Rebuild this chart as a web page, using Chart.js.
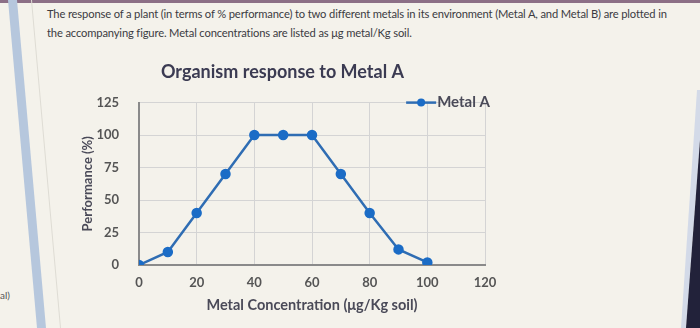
<!DOCTYPE html>
<html>
<head>
<meta charset="utf-8">
<script src="https://cdn.jsdelivr.net/npm/chart.js@4/dist/chart.umd.min.js"></script>
<style>
  html, body { margin: 0; padding: 0; }
  body {
    width: 700px; height: 328px; overflow: hidden; position: relative;
    background: #f4f2eb;
    font-family: Lato, sans-serif;
  }
  .layer { position: absolute; left: 0; top: 0; width: 700px; height: 328px; }
  .topbar { position: absolute; left: 0; top: 0; width: 700px; height: 3px; background: #8c6f86; }
  .rail { background: #b6c7dd; clip-path: polygon(8px 0, 17px 0, 46px 328px, 37px 328px); }
  .rail-edge { background: #dedcd4; clip-path: polygon(31px 0, 32px 0, 61px 328px, 60px 328px); }
  .glare { background: #d3dae8; clip-path: polygon(697px 90px, 700px 90px, 700px 140px, 686px 328px, 681px 328px); }
  .corner { background: #22223a; clip-path: polygon(700px 140px, 700px 328px, 686px 328px); }
  .question {
    position: absolute; left: 47px; top: 4px; width: 650px;
    font-size: 11.2px; line-height: 19px; color: #3b3b42; letter-spacing: -0.15px;
  }
  .side { position: absolute; left: 0; top: 289px; font-size: 10px; color: #555; }
</style>
</head>
<body>
<div class="topbar"></div>
<div class="layer rail"></div>
<div class="layer rail-edge"></div>
<div class="layer glare"></div>
<div class="layer corner"></div>
<div class="question">The response of a plant (in terms of % performance) to two different metals in its environment (Metal A, and Metal B) are plotted in<br>the accompanying figure. Metal concentrations are listed as μg metal/Kg soil.</div>
<div class="side">al)</div>
<div class="layer"><canvas id="chart" width="700" height="328"></canvas></div>
<script>
const concentrations = [0, 10, 20, 30, 40, 50, 60, 70, 80, 90, 100];
const performance = [0, 10, 40, 70, 100, 100, 100, 70, 40, 12, 2];
const seriesName = 'Metal A';
const xTicks = [0, 20, 40, 60, 80, 100, 120];
const yTicks = [0, 25, 50, 75, 100, 125];

const lineBlue = '#2f6db3';
const dotBlue = '#1b6cc6';
const textGray = '#4a4a58';
const fontFamily = "Lato, sans-serif";

// legend drawn on the top gridline, right-aligned to the plot
const cornerLegend = {
  id: 'cornerLegend',
  afterDraw(chart) {
    const {ctx, chartArea} = chart;
    const ds = chart.data.datasets[0];
    ctx.save();
    ctx.font = `bold 15px ${fontFamily}`;
    ctx.textBaseline = 'middle';
    ctx.textAlign = 'right';
    const y = chartArea.top;
    const textRight = chartArea.right + 5;
    const textW = ctx.measureText(ds.label).width;
    const lineEnd = textRight - textW - 1;
    const lineStart = lineEnd - 30;
    ctx.strokeStyle = ds.borderColor;
    ctx.lineWidth = 2.5;
    ctx.beginPath(); ctx.moveTo(lineStart, y); ctx.lineTo(lineEnd, y); ctx.stroke();
    ctx.fillStyle = ds.pointBackgroundColor;
    ctx.beginPath(); ctx.arc((lineStart + lineEnd) / 2, y, 4, 0, Math.PI * 2); ctx.fill();
    ctx.fillStyle = textGray;
    ctx.fillText(ds.label, textRight, y);
    ctx.restore();
  }
};

const points = concentrations.map((c, i) => ({ x: c, y: performance[i] }));

new Chart(document.getElementById('chart'), {
  type: 'line',
  data: {
    datasets: [{
      label: seriesName,
      data: points,
      borderColor: lineBlue,
      backgroundColor: dotBlue,
      borderWidth: 2.5,
      pointRadius: 4,
      pointBackgroundColor: dotBlue,
      pointBorderColor: dotBlue,
      tension: 0
    }]
  },
  options: {
    responsive: false,
    animation: false,
    layout: { padding: { left: 80, right: 215, top: 61, bottom: 0 } },
    plugins: {
      title: {
        display: true,
        text: 'Organism response to Metal A',
        color: '#3b3b52',
        font: { family: fontFamily, size: 18, weight: 'bold' },
        padding: { top: 0, bottom: 20 }
      },
      legend: { display: false },
      tooltip: { enabled: false }
    },
    scales: {
      x: {
        type: 'linear',
        min: 0, max: 120,
        afterFit: s => { s.height = 63; },
        afterBuildTicks: s => { s.ticks = xTicks.map(v => ({ value: v })); },
        ticks: {
          padding: 10,
          color: '#555',
          font: { family: fontFamily, size: 13, weight: 'bold' }
        },
        grid: { drawTicks: false, color: '#d4d4d4', lineWidth: 1 },
        border: { color: '#8a8a8a', width: 2 },
        title: {
          display: true,
          text: 'Metal Concentration (μg/Kg soil)',
          color: textGray,
          font: { family: fontFamily, size: 14.5, weight: 'bold' },
          padding: { top: 0, bottom: 14 }
        }
      },
      y: {
        min: 0, max: 125,
        afterFit: s => { s.width = 59; },
        afterBuildTicks: s => { s.ticks = yTicks.map(v => ({ value: v })); },
        ticks: {
          padding: 20,
          color: '#555',
          font: { family: fontFamily, size: 13, weight: 'bold' }
        },
        grid: { drawTicks: false, color: '#d4d4d4', lineWidth: 1 },
        border: { color: '#8a8a8a', width: 2 },
        title: {
          display: true,
          text: 'Performance (%)',
          color: textGray,
          font: { family: fontFamily, size: 13, weight: 'bold' },
          padding: { top: 0, bottom: 0 }
        }
      }
    }
  },
  plugins: [cornerLegend]
});
</script>
</body>
</html>
